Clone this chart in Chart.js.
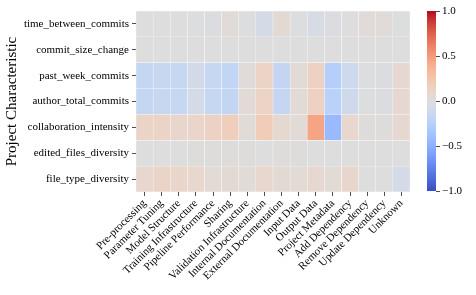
<!DOCTYPE html>
<html>
<head>
<meta charset="utf-8">
<script src="https://cdn.jsdelivr.net/npm/chart.js@4.4.1/dist/chart.umd.min.js"></script>
<style>
  body { margin: 0; background: #fff; }
  #wrap { position: relative; width: 476px; height: 295px; }
  canvas { position: absolute; top: 0; }
</style>
</head>
<body>
<div id="wrap">
  <canvas id="heat" width="420" height="295" style="left:0"></canvas>
  <canvas id="cbar" width="56" height="295" style="left:420px"></canvas>
</div>
<script>
// categories (columns) and project characteristics (rows)
const categories = ['Pre-processing', 'Parameter Tuning', 'Model Structure', 'Training Infrastructure',
  'Pipeline Performance', 'Sharing', 'Validation Infrastructure', 'Internal Documentation',
  'External Documentation', 'Input Data', 'Output Data', 'Project Metadata', 'Add Dependency',
  'Remove Dependency', 'Update Dependency', 'Unknown'];
const characteristics = ['time_between_commits', 'commit_size_change', 'past_week_commits',
  'author_total_commits', 'collaboration_intensity', 'edited_files_diversity', 'file_type_diversity'];

// correlation values, one array per row
const timeBetweenCommits = [0.0, 0.0, 0.0, -0.01, -0.02, 0.03, -0.01, -0.06, 0.05, -0.01, -0.05, -0.02, 0.0, 0.02, 0.02, -0.01];
const commitSizeChange = [0.0, 0.0, 0.0, 0.0, 0.0, 0.0, 0.0, 0.0, 0.0, 0.0, 0.0, 0.0, 0.0, 0.0, 0.0, 0.0];
const pastWeekCommits = [-0.17, -0.15, -0.16, -0.08, -0.16, -0.19, 0.02, 0.12, -0.18, 0.04, 0.14, -0.26, -0.12, -0.01, -0.02, 0.07];
const authorTotalCommits = [-0.17, -0.15, -0.16, -0.07, -0.16, -0.18, 0.04, 0.12, -0.17, 0.04, 0.14, -0.24, -0.11, -0.01, -0.02, 0.07];
const collaborationIntensity = [0.11, 0.12, 0.09, 0.1, 0.13, 0.17, 0.03, 0.19, 0.06, 0.03, 0.45, -0.43, 0.08, 0.01, 0.01, 0.07];
const editedFilesDiversity = [0.0, 0.0, 0.0, 0.01, 0.01, 0.01, 0.01, 0.0, 0.01, 0.01, 0.0, 0.0, 0.0, 0.0, 0.0, 0.0];
const fileTypeDiversity = [0.08, 0.11, 0.1, 0.08, 0.04, 0.05, 0.03, 0.08, 0.05, 0.04, 0.07, 0.04, 0.09, 0.0, 0.0, -0.07];

const rowValues = [timeBetweenCommits, commitSizeChange, pastWeekCommits, authorTotalCommits,
  collaborationIntensity, editedFilesDiversity, fileTypeDiversity];

// colorbar range and ticks
const colorMin = -1;
const colorMax = 1;
const colorTicks = [-1, -0.5, 0, 0.5, 1];

// coolwarm lookup (Moreland)
const coolwarm = [
  [59,76,192],[68,90,204],[77,104,215],[87,117,225],[98,130,234],[108,142,241],[119,154,247],[130,165,251],
  [141,176,254],[152,185,255],[163,194,255],[174,201,253],[184,208,249],[194,213,244],[204,217,238],[213,219,230],
  [221,221,221],[229,216,209],[236,211,197],[241,204,184],[245,196,172],[247,187,160],[247,177,148],[247,166,137],
  [244,154,123],[241,141,111],[236,127,99],[229,112,88],[222,96,77],[213,80,66],[203,62,56],[192,40,47],[180,4,38]
];
function colorFor(v) {
  let t = (v - colorMin) / (colorMax - colorMin);
  t = Math.max(0, Math.min(1, t)) * (coolwarm.length - 1);
  const i = Math.min(Math.floor(t), coolwarm.length - 2);
  const f = t - i;
  const a = coolwarm[i], b = coolwarm[i + 1];
  const c = a.map((x, k) => Math.round(x + (b[k] - x) * f));
  return `rgb(${c[0]},${c[1]},${c[2]})`;
}

const serif = '"Liberation Serif", "DejaVu Serif", serif';
const tickColor = '#222';

// heatmap: one floating-bar dataset per row
const datasets = characteristics.map((name, r) => ({
  label: name,
  data: categories.map(() => [r, r + 1]),
  backgroundColor: rowValues[r].map(colorFor),
  borderColor: 'rgba(255,255,255,0.15)',
  borderWidth: 0.5,
  borderSkipped: false,
  barPercentage: 1,
  categoryPercentage: 1,
  grouped: false
}));

new Chart(document.getElementById('heat'), {
  type: 'bar',
  data: { labels: categories, datasets: datasets },
  options: {
    responsive: false,
    animation: false,
    devicePixelRatio: 1,
    layout: { padding: { top: 11, right: 10, left: 0, bottom: 0 } },
    plugins: { legend: { display: false }, tooltip: { enabled: false } },
    scales: {
      x: {
        grid: { drawOnChartArea: false, offset: false, tickLength: 4, color: tickColor, lineWidth: 0.8 },
        border: { display: false },
        ticks: { color: '#000', font: { family: serif, size: 11 }, maxRotation: 45, minRotation: 45, padding: 1, autoSkip: false },
        afterFit: axis => { axis.height = 103; }
      },
      y: {
        type: 'linear',
        min: 0,
        max: characteristics.length,
        reverse: true,
        grid: { drawOnChartArea: false, tickLength: 4, color: tickColor, lineWidth: 0.8 },
        border: { display: false },
        afterBuildTicks: axis => { axis.ticks = characteristics.map((_, i) => ({ value: i + 0.5 })); },
        ticks: { color: '#000', font: { family: serif, size: 11 }, padding: 3,
          callback: v => characteristics[Math.floor(v)] },
        title: { display: true, text: 'Project Characteristic', color: '#000',
          font: { family: serif, size: 15 }, padding: { top: 3, bottom: 0 } },
        afterFit: axis => { axis.width = 136; }
      }
    }
  }
});

// colorbar: a single floating bar with a gradient fill
new Chart(document.getElementById('cbar'), {
  type: 'bar',
  data: {
    labels: [''],
    datasets: [{
      data: [[colorMin, colorMax]],
      barPercentage: 1,
      categoryPercentage: 1,
      backgroundColor: ctx => {
        const area = ctx.chart.chartArea;
        if (!area) return '#ddd';
        const g = ctx.chart.ctx.createLinearGradient(0, area.bottom, 0, area.top);
        coolwarm.forEach((c, i) => g.addColorStop(i / (coolwarm.length - 1), `rgb(${c[0]},${c[1]},${c[2]})`));
        return g;
      }
    }]
  },
  options: {
    responsive: false,
    animation: false,
    devicePixelRatio: 1,
    layout: { padding: { top: 11, left: 7, right: 0, bottom: 104 } },
    plugins: { legend: { display: false }, tooltip: { enabled: false } },
    scales: {
      x: { display: false },
      y: {
        position: 'right',
        min: colorMin,
        max: colorMax,
        afterBuildTicks: axis => { axis.ticks = colorTicks.map(v => ({ value: v })); },
        grid: { drawOnChartArea: false, tickLength: 4, color: tickColor, lineWidth: 0.8 },
        border: { display: false },
        ticks: { color: '#000', font: { family: serif, size: 11 }, padding: 2,
          callback: v => (v < 0 ? '\u2212' : '') + Math.abs(v).toFixed(1) },
        afterFit: axis => { axis.width = 40; }
      }
    }
  }
});
</script>
</body>
</html>
